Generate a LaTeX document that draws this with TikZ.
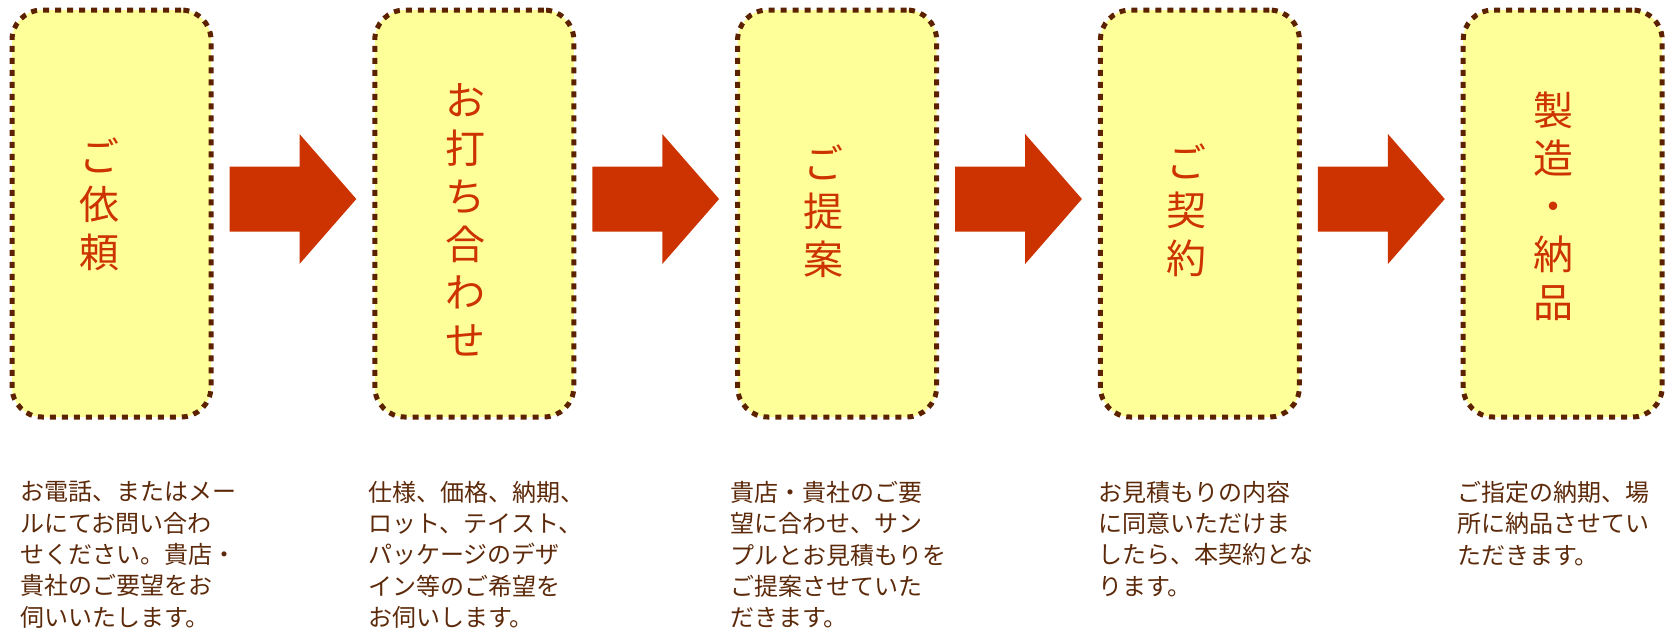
\documentclass[tikz,border=0pt]{standalone}
\usepackage{fontspec}
\setmainfont{Noto Sans CJK JP}
\usetikzlibrary{calc}
\definecolor{boxfill}{HTML}{FFFF99}
\definecolor{boxline}{HTML}{5C2200}
\definecolor{titlec}{HTML}{CC3300}
\definecolor{bodyc}{HTML}{5C2A0A}
\tikzset{
  stepbox/.style={draw=boxline, fill=boxfill, line width=5pt, dash pattern=on 6pt off 6pt,
    rounded corners=30pt, minimum width=199pt, minimum height=407pt, inner sep=0pt},
  titletext/.style={text=titlec, font=\fontsize{40}{48}\selectfont, align=center, inner sep=0pt},
  bodytext/.style={text=bodyc, font=\fontsize{24}{31.3}\selectfont, align=left, inner sep=0pt, anchor=north west},
  blockarrow/.style={fill=titlec}
}
\begin{document}
\begin{tikzpicture}[x=1pt,y=-1pt]
\useasboundingbox (0,0) rectangle (1669,632);
% boxes
\node[stepbox] (b1) at (111.5,213.5) {};
\node[stepbox] (b2) at (474.3,213.5) {};
\node[stepbox] (b3) at (837.1,213.5) {};
\node[stepbox] (b4) at (1199.9,213.5) {};
\node[stepbox] (b5) at (1562.7,213.5) {};
% titles
\node[titletext] (t1) at ($(b1.center)+(-12,-9)$) {ご\\依\\頼};
\node[titletext] (t2) at ($(b2.center)+(-9,6)$) {お\\打\\ち\\合\\わ\\せ};
\node[titletext] (t3) at ($(b3.center)+(-14,-2)$) {ご\\提\\案};
\node[titletext] (t4) at ($(b4.center)+(-13,-3)$) {ご\\契\\約};
\node[titletext] (t5) at ($(b5.center)+(-9,-7)$) {製\\造\\・\\納\\品};
% arrows
\foreach \i/\j in {1/2,2/3,3/4,4/5}{
  \fill[blockarrow] ($(b\i.east)+(16,-47)$) -- ($(b\i.east)+(86,-47)$) -- ($(b\i.east)+(86,-79.5)$)
    -- ($(b\j.west)+(-16,-14.5)$) -- ($(b\i.east)+(86,50.5)$) -- ($(b\i.east)+(86,18)$)
    -- ($(b\i.east)+(16,18)$) -- cycle;
}
% descriptions
\node[bodytext] (d1) at (20,481) {お電話、またはメー\\ルにてお問い合わ\\せください。貴店・\\貴社のご要望をお\\伺いいたします。};
\node[bodytext] (d2) at (368,481) {仕様、価格、納期、\\ロット、テイスト、\\パッケージのデザ\\イン等のご希望を\\お伺いします。};
\node[bodytext] (d3) at (730,481) {貴店・貴社のご要\\望に合わせ、サン\\プルとお見積もりを\\ご提案させていた\\だきます。};
\node[bodytext] (d4) at (1098,481) {お見積もりの内容\\に同意いただけま\\したら、本契約とな\\ります。};
\node[bodytext] (d5) at (1457,481) {ご指定の納期、場\\所に納品させてい\\ただきます。};
\end{tikzpicture}
\end{document}
